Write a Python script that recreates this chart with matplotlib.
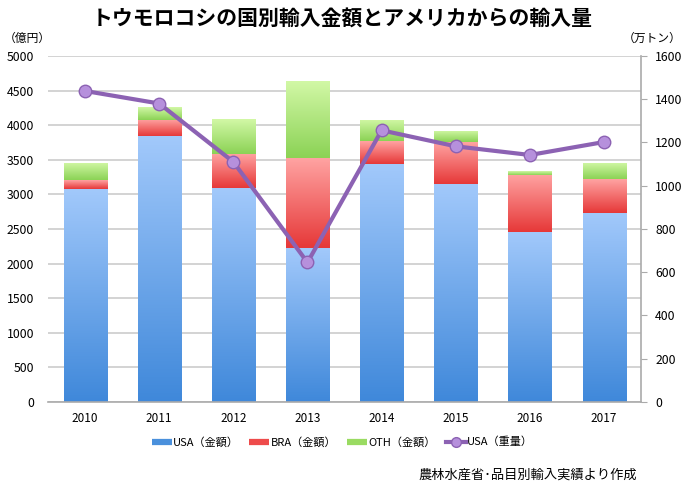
import matplotlib
matplotlib.use("Agg")
import matplotlib.pyplot as plt
import numpy as np
from matplotlib.colors import LinearSegmentedColormap
from matplotlib.lines import Line2D

plt.rcParams['font.family'] = ['Noto Sans CJK JP', 'DejaVu Sans']

years = ['2010', '2011', '2012', '2013', '2014', '2015', '2016', '2017']
usa_value = [3080, 3840, 3090, 2225, 3445, 3156, 2462, 2737]
bra_value = [120, 240, 500, 1297, 322, 600, 824, 481]
oth_value = [255, 175, 495, 1112, 314, 160, 52, 242]
usa_volume = [1438, 1380, 1110, 645, 1256, 1182, 1142, 1202]

series_names = ['USA（金額）', 'BRA（金額）', 'OTH（金額）', 'USA（重量）']
grad_colors = [('#A2C9FB', '#3F88DA'), ('#FFA3A2', '#E63838'), ('#D2F8A6', '#8BD255')]
solid_colors = ['#4A90DC', '#EE4B4B', '#9ADB62']
line_color = '#8C62B3'
marker_face = '#B690DC'

fig = plt.figure(figsize=(6.85, 4.95), dpi=100)
ax = fig.add_axes([0.070, 0.188, 0.866, 0.699])

x = np.arange(len(years))
width = 0.58
bottoms = np.zeros(len(years))
for vals, (ctop, cbot) in zip([usa_value, bra_value, oth_value], grad_colors):
    bars = ax.bar(x, vals, width, bottom=bottoms, color='none', edgecolor='none', zorder=2)
    cmap = LinearSegmentedColormap.from_list('g', [cbot, ctop])
    grad = np.linspace(0, 1, 256).reshape(-1, 1)
    for b in bars:
        x0, y0 = b.get_x(), b.get_y()
        w, h = b.get_width(), b.get_height()
        im = ax.imshow(grad, extent=[x0, x0 + w, y0, y0 + h], origin='lower',
                       aspect='auto', cmap=cmap, zorder=2, interpolation='bilinear')
        im.set_clip_path(b)
    bottoms = bottoms + np.array(vals)

ax.set_xlim(-0.5, len(years) - 0.5)
ax.set_ylim(0, 5000)
ax.set_yticks(np.arange(0, 5001, 500))
ax.set_xticks(x)
ax.set_xticklabels(years)
ax.yaxis.grid(True, color='#CCCCCC', linewidth=1.2, zorder=0)
ax.set_axisbelow(True)
for s in ['top', 'left', 'right']:
    ax.spines[s].set_visible(False)
ax.spines['bottom'].set_color('#AAAAAA')
ax.spines['bottom'].set_linewidth(1.2)
ax.tick_params(axis='y', length=0, labelsize=8.8, pad=10)
ax.tick_params(axis='x', length=0, labelsize=8.5, pad=7)

ax2 = ax.twinx()
ax2.plot(x, usa_volume, color=line_color, linewidth=3, marker='o', markersize=9,
         markerfacecolor=marker_face, markeredgecolor=line_color, markeredgewidth=1, zorder=5)
ax2.set_ylim(0, 1600)
ax2.set_yticks(np.arange(0, 1601, 200))
for s in ['top', 'left', 'bottom']:
    ax2.spines[s].set_visible(False)
ax2.spines['right'].set_color('#AAAAAA')
ax2.spines['right'].set_linewidth(1.2)
ax2.tick_params(axis='y', length=4, color='#AAAAAA', labelsize=8.8, pad=6)

fig.text(0.5, 0.962, 'トウモロコシの国別輸入金額とアメリカからの輸入量', ha='center', va='center',
         fontsize=15, fontweight='bold')
fig.text(0.006, 0.923, '（億円）', ha='left', va='center', fontsize=8.5)
fig.text(0.995, 0.923, '（万トン）', ha='right', va='center', fontsize=8.5)
fig.text(0.93, 0.040, '農林水産省･品目別輸入実績より作成', ha='right', va='center', fontsize=9.5)

handles = [Line2D([], [], color=c, linewidth=4.5, solid_capstyle='butt') for c in solid_colors]
handles.append(Line2D([], [], color=line_color, linewidth=3, marker='o', markersize=7,
                      markerfacecolor=marker_face, markeredgecolor=line_color))
fig.legend(handles, series_names, loc='center', bbox_to_anchor=(0.5, 0.107), ncol=4,
           frameon=False, fontsize=8, handlelength=1.8, handletextpad=0.15, columnspacing=0.9)

fig.savefig('out.png', dpi=100)
